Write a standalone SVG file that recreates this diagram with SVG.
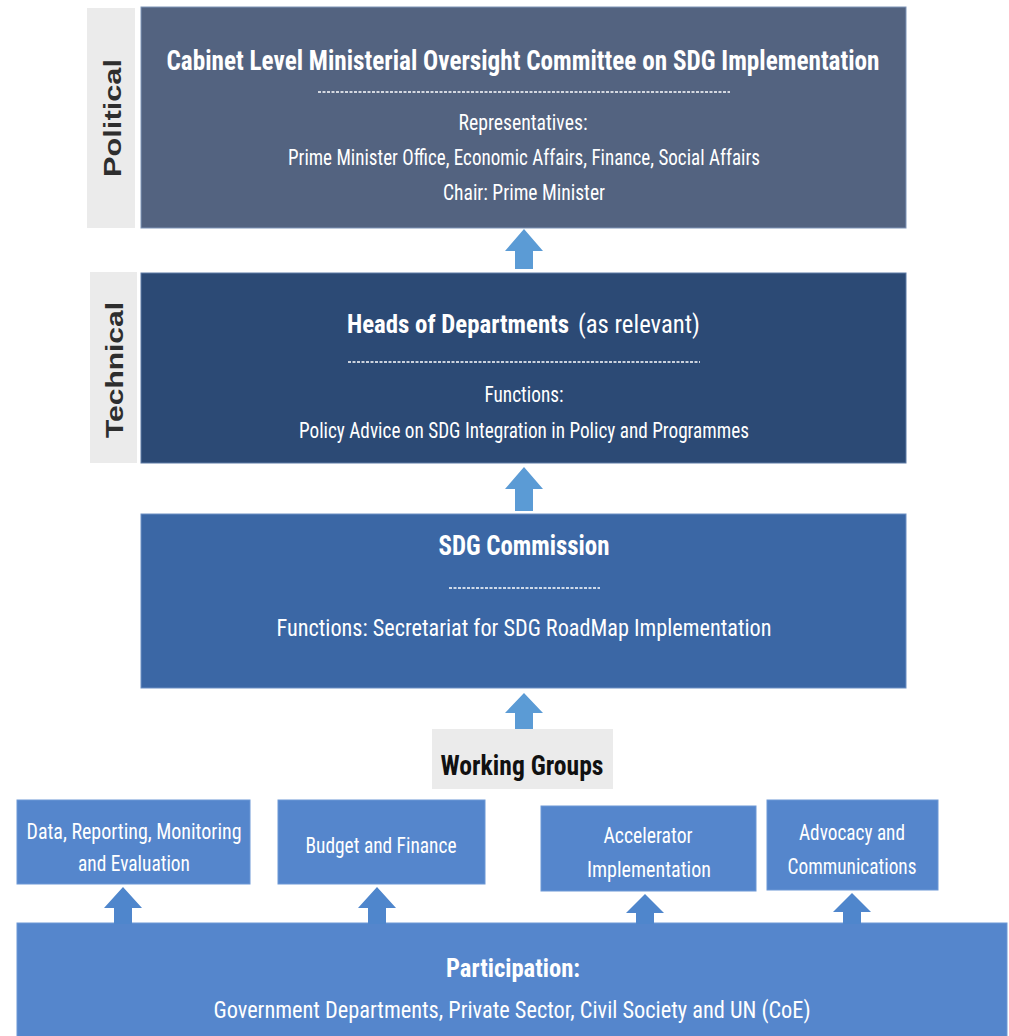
<svg xmlns="http://www.w3.org/2000/svg" width="1009" height="1036" viewBox="0 0 1009 1036">
  <defs>
    <style>
      .t { font-family: "Liberation Sans Narrow", "Roboto Condensed", "Liberation Sans", Arial, sans-serif; fill: #ffffff; text-anchor: middle; }
      .b { font-weight: bold; }
      .s { text-anchor: start; }
      .side { font-family: "Liberation Sans", Arial, sans-serif; font-weight: bold; fill: #2e2e2e; text-anchor: middle; font-size: 24px; }
      .tag { fill: #ebebeb; }
      .rule { stroke: #ffffff; stroke-width: 1.6; stroke-dasharray: 3 1.5; fill: none; }
      .up-lt { fill: #5b9bd5; }
      .up-dk { fill: #4f86cc; }
      .wg { fill: #5586cc; stroke: #6c98d6; stroke-width: 1; }
    </style>
  </defs>

  <rect width="1009" height="1036" fill="#ffffff"/>

  <!-- tier labels -->
  <g id="tier-political">
    <rect class="tag" x="87" y="8" width="48" height="220"/>
    <text class="side" transform="translate(121,118) rotate(-90)" textLength="118" lengthAdjust="spacingAndGlyphs">Political</text>
  </g>
  <g id="tier-technical">
    <rect class="tag" x="90" y="272" width="47" height="191"/>
    <text class="side" transform="translate(123,370) rotate(-90)" textLength="136" lengthAdjust="spacingAndGlyphs">Technical</text>
  </g>

  <!-- cabinet committee -->
  <g id="cabinet-committee">
    <rect x="141" y="7" width="765" height="221" fill="#536380" stroke="#7f95b8" stroke-width="1"/>
    <text class="t b" x="523" y="70" font-size="27" textLength="713" lengthAdjust="spacingAndGlyphs">Cabinet Level Ministerial Oversight Committee on SDG Implementation</text>
    <line class="rule" x1="318" y1="92" x2="730" y2="92"/>
    <text class="t" x="523" y="130" font-size="22" textLength="129" lengthAdjust="spacingAndGlyphs">Representatives:</text>
    <text class="t" x="524" y="165" font-size="22" textLength="472" lengthAdjust="spacingAndGlyphs">Prime Minister Office, Economic Affairs, Finance, Social Affairs</text>
    <text class="t" x="524" y="200" font-size="22" textLength="162" lengthAdjust="spacingAndGlyphs">Chair: Prime Minister</text>
  </g>

  <!-- heads of departments -->
  <g id="heads-of-departments">
    <rect x="141" y="273" width="765" height="190" fill="#2c4a75" stroke="#5d7aa6" stroke-width="1"/>
    <text class="t b s" x="347" y="333" font-size="25" textLength="222" lengthAdjust="spacingAndGlyphs">Heads of Departments</text>
    <text class="t s" x="578" y="333" font-size="26" textLength="122" lengthAdjust="spacingAndGlyphs">(as relevant)</text>
    <line class="rule" x1="348" y1="362" x2="700" y2="362"/>
    <text class="t" x="524" y="402" font-size="22" textLength="79" lengthAdjust="spacingAndGlyphs">Functions:</text>
    <text class="t" x="524" y="438" font-size="22" textLength="450" lengthAdjust="spacingAndGlyphs">Policy Advice on SDG Integration in Policy and Programmes</text>
  </g>

  <!-- sdg commission -->
  <g id="sdg-commission">
    <rect x="141" y="514" width="765" height="174" fill="#3b67a5" stroke="#6d90c4" stroke-width="1"/>
    <text class="t b" x="524" y="555" font-size="28" textLength="171" lengthAdjust="spacingAndGlyphs">SDG Commission</text>
    <line class="rule" x1="449" y1="588" x2="600" y2="588"/>
    <text class="t" x="524" y="636" font-size="24" textLength="495" lengthAdjust="spacingAndGlyphs">Functions: Secretariat for SDG RoadMap Implementation</text>
  </g>

  <!-- working groups heading -->
  <g id="working-groups">
    <rect class="tag" x="432" y="729" width="181" height="60"/>
    <text class="t b" x="522" y="775" font-size="27" style="fill:#111111" textLength="163" lengthAdjust="spacingAndGlyphs">Working Groups</text>
  </g>

  <!-- working group boxes -->
  <g id="wg-data">
    <rect class="wg" x="17" y="800" width="233" height="84"/>
    <text class="t" x="134" y="839" font-size="22" textLength="215" lengthAdjust="spacingAndGlyphs">Data, Reporting, Monitoring</text>
    <text class="t" x="134" y="871" font-size="22" textLength="112" lengthAdjust="spacingAndGlyphs">and Evaluation</text>
  </g>
  <g id="wg-budget">
    <rect class="wg" x="278" y="800" width="207" height="84"/>
    <text class="t" x="381" y="853" font-size="22" textLength="151" lengthAdjust="spacingAndGlyphs">Budget and Finance</text>
  </g>
  <g id="wg-accelerator">
    <rect class="wg" x="541" y="806" width="215" height="85"/>
    <text class="t" x="648" y="843" font-size="22" textLength="89" lengthAdjust="spacingAndGlyphs">Accelerator</text>
    <text class="t" x="649" y="877" font-size="22" textLength="124" lengthAdjust="spacingAndGlyphs">Implementation</text>
  </g>
  <g id="wg-advocacy">
    <rect class="wg" x="767" y="800" width="171" height="90"/>
    <text class="t" x="852" y="840" font-size="22" textLength="106" lengthAdjust="spacingAndGlyphs">Advocacy and</text>
    <text class="t" x="852" y="874" font-size="22" textLength="129" lengthAdjust="spacingAndGlyphs">Communications</text>
  </g>

  <!-- participation base -->
  <g id="participation">
    <rect x="17" y="923" width="990" height="120" fill="#5586cc" stroke="#6c98d6" stroke-width="1"/>
    <text class="t b" x="513" y="977" font-size="26" textLength="134" lengthAdjust="spacingAndGlyphs">Participation:</text>
    <text class="t" x="512" y="1018" font-size="24" textLength="597" lengthAdjust="spacingAndGlyphs">Government Departments, Private Sector, Civil Society and UN (CoE)</text>
  </g>

  <!-- upward block arrows -->
  <g id="connectors">
    <polygon class="up-lt" points="524,229 543,251 533,251 533,269 515,269 515,251 505,251"/>
    <polygon class="up-lt" points="524,467 543,489 533,489 533,511 515,511 515,489 505,489"/>
    <polygon class="up-lt" points="524,693 543,713 533,713 533,729 515,729 515,713 505,713"/>
    <polygon class="up-dk" points="123,887 142,908 132,908 132,924 114,924 114,908 104,908"/>
    <polygon class="up-dk" points="377,887 396,908 386,908 386,924 368,924 368,908 358,908"/>
    <polygon class="up-dk" points="645,894 664,913 654,913 654,924 636,924 636,913 626,913"/>
    <polygon class="up-dk" points="852,893 871,912 861,912 861,924 843,924 843,912 833,912"/>
  </g>
</svg>
